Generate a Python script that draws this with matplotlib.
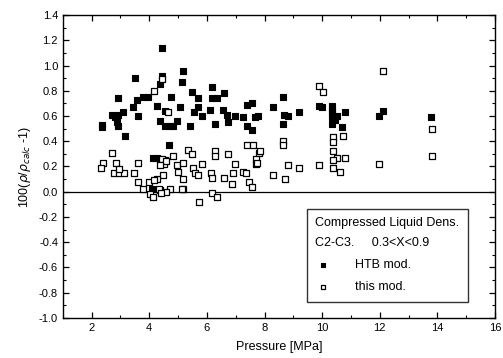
import numpy as np
import matplotlib
matplotlib.use("Agg")
import matplotlib.pyplot as plt
from matplotlib.ticker import MultipleLocator

plt.rcParams['font.family'] = ['Liberation Sans', 'DejaVu Sans']

# HTB mod. (filled squares)
htb_p = [2.36, 2.36, 2.70, 2.81, 2.91, 3.09, 2.88, 2.91, 3.16, 2.91, 3.50, 3.43, 3.57, 3.61,
         3.78, 3.96, 4.27, 4.44, 4.37, 4.44, 4.37, 4.55, 4.55, 4.76, 4.72, 4.83, 5.07, 4.97,
         5.17, 5.14, 5.49, 5.70, 5.56, 5.70, 5.42, 5.83, 6.11, 6.18, 6.18, 6.36, 6.29, 6.60,
         6.57, 6.74, 6.70, 6.98, 7.26, 7.40, 7.57, 7.40, 7.57, 7.68, 7.78, 8.30, 8.65, 8.69,
         8.83, 8.65, 9.21, 9.90, 10.01, 10.36, 10.36, 10.36, 10.46, 10.53, 10.81, 10.70,
         12.10, 11.96, 13.77, 4.69, 4.13, 4.27, 4.10, 10.36, 10.36]
htb_d = [0.53, 0.51, 0.61, 0.59, 0.61, 0.63, 0.55, 0.52, 0.44, 0.74, 0.90, 0.67, 0.73, 0.60,
         0.75, 0.75, 0.68, 1.14, 0.85, 0.92, 0.56, 0.64, 0.52, 0.75, 0.52, 0.52, 0.67, 0.56,
         0.96, 0.87, 0.79, 0.74, 0.63, 0.67, 0.52, 0.60, 0.65, 0.83, 0.74, 0.74, 0.54, 0.78,
         0.65, 0.55, 0.61, 0.60, 0.59, 0.69, 0.70, 0.52, 0.49, 0.59, 0.60, 0.67, 0.75, 0.61,
         0.60, 0.54, 0.63, 0.68, 0.67, 0.63, 0.59, 0.54, 0.57, 0.60, 0.63, 0.51,
         0.64, 0.60, 0.59, 0.37, 0.27, 0.27, 0.02, 0.68, 0.65]

# this mod. (open squares)
this_p = [9.90, 10.04, 12.10, 13.80, 13.80, 11.96, 8.65, 8.65, 7.40, 7.61, 7.82, 7.71, 7.71,
          8.83, 9.21, 9.90, 10.39, 10.39, 10.74, 10.39, 10.50, 10.81, 10.39, 10.39, 10.63,
          8.30, 8.72, 7.85,
          5.35, 5.49, 6.29, 6.29, 6.74, 4.83, 4.55, 4.51, 4.48, 4.97, 5.17, 5.00, 5.17, 5.52,
          5.59, 5.83, 5.70, 6.15, 6.18, 6.60, 6.98, 6.91, 6.88, 7.26, 7.37, 7.47, 7.57, 7.75,
          4.37, 4.72, 5.17, 6.18, 6.36, 5.73,
          2.70, 2.39, 2.32, 2.84, 2.77, 2.95, 3.12, 2.95, 3.61, 3.47, 3.61, 3.99, 3.78, 4.03,
          4.27, 4.34, 4.58, 4.44, 4.58, 4.37, 4.17, 4.13, 4.41, 5.14,
          4.44, 4.17, 4.65]
this_d = [0.84, 0.79, 0.96, 0.50, 0.28, 0.22, 0.40, 0.37, 0.37, 0.37, 0.31, 0.26, 0.22,
          0.21, 0.19, 0.21, 0.43, 0.39, 0.44, 0.32, 0.27, 0.27, 0.25, 0.19, 0.16,
          0.13, 0.10, 0.32,
          0.33, 0.30, 0.32, 0.28, 0.30, 0.28, 0.25, 0.22, 0.13, 0.21, 0.23, 0.16, 0.10, 0.19,
          0.15, 0.22, 0.13, 0.15, 0.11, 0.11, 0.22, 0.15, 0.06, 0.16, 0.15, 0.08, 0.04, 0.23,
          0.01, 0.02, 0.02, -0.01, -0.04, -0.08,
          0.31, 0.23, 0.19, 0.23, 0.15, 0.15, 0.15, 0.18, 0.23, 0.15, 0.08, 0.08, 0.02, -0.02,
          0.10, 0.02, 0.00, 0.26, 0.24, 0.21, 0.09, -0.04, -0.01, 0.02,
          0.89, 0.80, 0.63]

fig = plt.figure(figsize=(5.03, 3.58), dpi=100)
ax = fig.add_axes([0.125, 0.112, 0.859, 0.846])

ax.axhline(0, color='black', lw=0.9, zorder=1)
ax.scatter(htb_p, htb_d, marker='s', s=22, c='black', edgecolors='black', linewidths=0.8,
           zorder=3, label='HTB mod.')
ax.scatter(this_p, this_d, marker='s', s=22, facecolors='white', edgecolors='black',
           linewidths=0.9, zorder=3, label='this mod.')

ax.set_xlim(1, 16)
ax.set_ylim(-1.0, 1.4)
ax.xaxis.set_major_locator(MultipleLocator(2))
ax.xaxis.set_minor_locator(MultipleLocator(1))
ax.yaxis.set_major_locator(MultipleLocator(0.2))
ax.yaxis.set_minor_locator(MultipleLocator(0.1))
ax.tick_params(which='both', direction='in', top=True, right=True, labelsize=8)
ax.tick_params(which='major', length=4, width=0.9)
ax.tick_params(which='minor', length=2, width=0.8)
ax.set_xticks([2, 4, 6, 8, 10, 12, 14, 16])
ax.set_yticklabels([f"{v:.1f}" for v in ax.get_yticks()])
for sp in ax.spines.values():
    sp.set_linewidth(1.0)

ax.set_xlabel('Pressure [MPa]', fontsize=9, labelpad=6)
ax.set_ylabel(r'100($\rho$/$\rho_{calc}$ -1)', fontsize=9, labelpad=4)

leg = ax.legend(loc='lower right', bbox_to_anchor=(0.938, 0.052), fontsize=9,
                title='Compressed Liquid Dens.\nC2-C3.     0.3<X<0.9',
                title_fontsize=9, frameon=True, fancybox=False, edgecolor='black',
                handletextpad=2.0, borderpad=0.7, borderaxespad=0.0, labelspacing=0.8,
                handlelength=1.2, scatterpoints=1, markerscale=0.7)
leg.get_frame().set_linewidth(1.0)
leg._legend_box.align = 'left'
leg.get_title().set_linespacing(1.9)

fig.savefig('out.png', dpi=100)
